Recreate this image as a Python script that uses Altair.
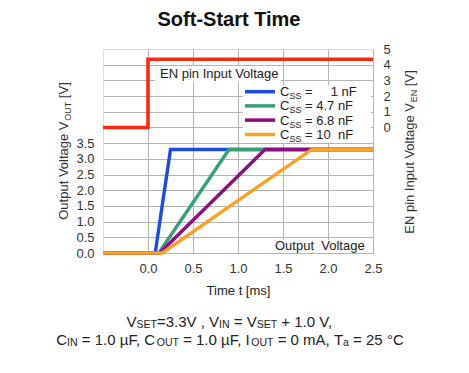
import altair as alt
import pandas as pd

# ---------------- data ----------------
NB = "\u00a0"
MU = "\u00b5"
series_values = ["1", "4.7", "6.8", "10"]
series_labels = ["Css = 1 nF", "Css = 4.7 nF", "Css = 6.8 nF", "Css = 10 nF"]
series_colors = ["#1d4ae8", "#35a07a", "#8a0f80", "#f7a325"]

t_1nF = [-0.5, 0.08, 0.25, 2.5]
v_1nF = [0.0, 0.0, 3.3, 3.3]
t_4p7nF = [-0.5, 0.12, 0.90, 2.5]
v_4p7nF = [0.0, 0.0, 3.3, 3.3]
t_6p8nF = [-0.5, 0.13, 1.30, 2.5]
v_6p8nF = [0.0, 0.0, 3.3, 3.3]
t_10nF = [-0.5, 0.16, 1.82, 2.5]
v_10nF = [0.0, 0.0, 3.3, 3.3]

t_en = [-0.5, 0.0, 0.0, 2.5]
v_en = [0.0, 0.0, 4.35, 4.35]

x_ticks = [0.0, 0.5, 1.0, 1.5, 2.0, 2.5]
y_grid = [0.0, 0.5, 1.0, 1.5, 2.0, 2.5, 3.0, 3.5, 4.0, 4.5, 5.0, 5.5, 6.0]
y_label_max = 3.5
en_ticks = [0, 1, 2, 3, 4, 5]

# ---------------- tables ----------------
rows = []
for lab, ts, vs in zip(series_labels,
                       [t_1nF, t_4p7nF, t_6p8nF, t_10nF],
                       [v_1nF, v_4p7nF, v_6p8nF, v_10nF]):
    for i, (t, v) in enumerate(zip(ts, vs)):
        rows.append({"t": t, "v": v, "series": lab, "i": i})
df_out = pd.DataFrame(rows)
df_en = pd.DataFrame({"t": t_en, "v": v_en, "i": list(range(len(t_en)))})

FONT = "Liberation Sans"
W = 270
H = 204

# Arial / Liberation Sans advance widths (per 1000 em)
AW = {" ": 278, NB: 278, ".": 278, ",": 278, "=": 584, "+": 584, "[": 278, "]": 278,
      "\u00b0": 400, MU: 576, "-": 333}
for c in "0123456789":
    AW[c] = 556
AW.update(dict(zip("ABCDEFGHIJKLMNOPQRSTUVWXYZ",
                   [667, 667, 722, 722, 667, 611, 778, 722, 278, 500, 667, 556, 833,
                    722, 778, 667, 778, 722, 667, 611, 722, 667, 944, 667, 667, 611])))
AW.update(dict(zip("abcdefghijklmnopqrstuvwxyz",
                   [556, 556, 500, 556, 556, 278, 556, 556, 222, 222, 500, 222, 833,
                    556, 556, 556, 556, 333, 500, 278, 556, 500, 722, 500, 500, 500])))


def tw(s, size):
    return sum(AW.get(ch, 556) for ch in s) / 1000.0 * size


one = pd.DataFrame({"a": [0]})


def rich(segments, x, y, angle=0, color="#222", center=True):
    """segments: list of (text, size, shift). Leading/trailing blanks become offsets."""
    total = sum(tw(s, sz) for s, sz, _ in segments)
    cur = -total / 2.0 if center else 0.0
    layers = []
    for s, sz, sh in segments:
        core = s.strip(" " + NB)
        lead = len(s) - len(s.lstrip(" " + NB))
        start = cur + tw(s[:lead], sz)
        if core:
            kw = dict(text=core.replace(" ", NB), fontSize=sz, font=FONT, align="left",
                      baseline="alphabetic", dx=start, dy=sh, color=color)
            if angle:
                kw["angle"] = angle
            layers.append(alt.Chart(one).mark_text(**kw).encode(x=alt.value(x), y=alt.value(y)))
        cur += tw(s, sz)
    return layers


def box(x1, x2, y1, y2):
    return alt.Chart(one).mark_rect(fill="white", stroke=None).encode(
        x=alt.value(x1), x2=alt.value(x2), y=alt.value(y1), y2=alt.value(y2))


x_enc = alt.X("t:Q", scale=alt.Scale(domain=[-0.5, 2.5], nice=False, zero=False),
              axis=alt.Axis(values=x_ticks, format=".1f", title="Time t [ms]",
                            grid=True, gridColor="#b4b4b4", ticks=False, domain=False,
                            labelFontSize=13, labelColor="#333", labelPadding=9,
                            titleFontSize=13, titleFontWeight="normal", titleColor="#222",
                            titlePadding=9, labelFlush=False))

y_left = alt.Y("v:Q", scale=alt.Scale(domain=[0, 6.5], nice=False),
               axis=alt.Axis(orient="left", values=y_grid, title=None,
                             labelExpr=f"datum.value <= {y_label_max} ? format(datum.value, '.1f') : ''",
                             grid=True, gridColor="#b4b4b4", ticks=False, domain=False,
                             labelFontSize=13, labelColor="#333", labelPadding=9,
                             labelFlush=False))

color_enc = alt.Color("series:N",
                      scale=alt.Scale(domain=series_labels, range=series_colors),
                      legend=None)

out_lines = [
    alt.Chart(df_out).transform_filter(alt.datum.series == lab)
    .mark_line(strokeWidth=3.4)
    .encode(x=x_enc, y=y_left, color=color_enc, order="i:Q")
    for lab in series_labels
]

annot = [
    box(52, 178, 17, 33),
    box(167, 269, 191, 204),
    box(140, 268, 36, 94),
    alt.Chart(one).mark_text(text="EN pin Input Voltage", fontSize=13, font=FONT,
                             align="left", baseline="middle", color="#222")
    .encode(x=alt.value(57), y=alt.value(25)),
    alt.Chart(one).mark_text(text="Output" + NB + NB + "Voltage", fontSize=13, font=FONT,
                             align="left", baseline="middle", color="#222")
    .encode(x=alt.value(172), y=alt.value(197)),
]

# manual legend (styled rows)
legend = []
row_y = [42.7, 56.9, 71.1, 85.5]
for val, col, yy in zip(series_values, series_colors, row_y):
    legend.append(alt.Chart(one).mark_rule(color=col, strokeWidth=3.5).encode(
        x=alt.value(142), x2=alt.value(172), y=alt.value(yy)))
    if val == "1":
        segs = [("C", 13, 0), ("SS", 9, 3), (" =", 13, 0), ("     1 nF", 13, 0)]
    elif val == "10":
        segs = [("C", 13, 0), ("SS", 9, 3), (" = 10", 13, 0), ("  nF", 13, 0)]
    else:
        segs = [("C", 13, 0), ("SS", 9, 3), (" = " + val + " nF", 13, 0)]
    legend += rich(segs, 177, yy + 4.5, center=False, color="#222")

texts = []
texts.append(alt.Chart(one).mark_text(text="Soft-Start Time", fontSize=20, fontWeight="bold",
                                      font=FONT, align="center", baseline="middle", color="#111")
             .encode(x=alt.value(126), y=alt.value(-29)))
texts += rich([("Output Voltage V", 13, 0), ("OUT", 9, 3), (" [V]", 13, 0)], -35, 102, angle=270,
              color="#333")
texts += rich([("EN pin Input Voltage V", 13, 0), ("EN", 9, 3), (" [V]", 13, 0)], 311, 103,
              angle=270, color="#333")
texts += rich([("V", 15, 0), ("SET", 10.5, 1), ("=3.3V , V", 15, 0), ("IN", 10.5, 1),
               (" = V", 15, 0), ("SET", 10.5, 1), (" + 1.0 V,", 15, 0)], 127, 278)
texts += rich([("C", 15, 0), ("IN", 10.5, 1), (" = 1.0 " + MU + "F, C", 15, 0), ("OUT", 10.5, 1),
               (" = 1.0 " + MU + "F, I", 15, 0), ("OUT", 10.5, 1), (" = 0 mA, T", 15, 0),
               ("a", 10.5, 1), (" = 25 \u00b0C", 15, 0)], 127, 296)

left_group = alt.layer(*annot, *out_lines, *legend, *texts)

en_line = alt.Chart(df_en).mark_line(color="#f92a14", strokeWidth=3.6).encode(
    x=x_enc,
    y=alt.Y("v:Q", scale=alt.Scale(domain=[-8, 5], nice=False, zero=False),
            axis=alt.Axis(orient="right", values=en_ticks, format="d", title=None,
                          grid=False, ticks=False, domain=False, labelFontSize=13,
                          labelColor="#333", labelPadding=10, labelFlush=False)),
    order="i:Q",
)

chart = alt.layer(left_group, en_line).resolve_scale(y="independent").properties(
    width=W, height=H,
    autosize=alt.AutoSizeParams(type="none"),
    padding={"left": 95, "top": 41, "right": 80, "bottom": 100},
).configure_view(stroke="#111", strokeWidth=1.6).configure(font=FONT, background="white")

chart.save("out.html", embed_options={"renderer": "svg", "actions": False})
